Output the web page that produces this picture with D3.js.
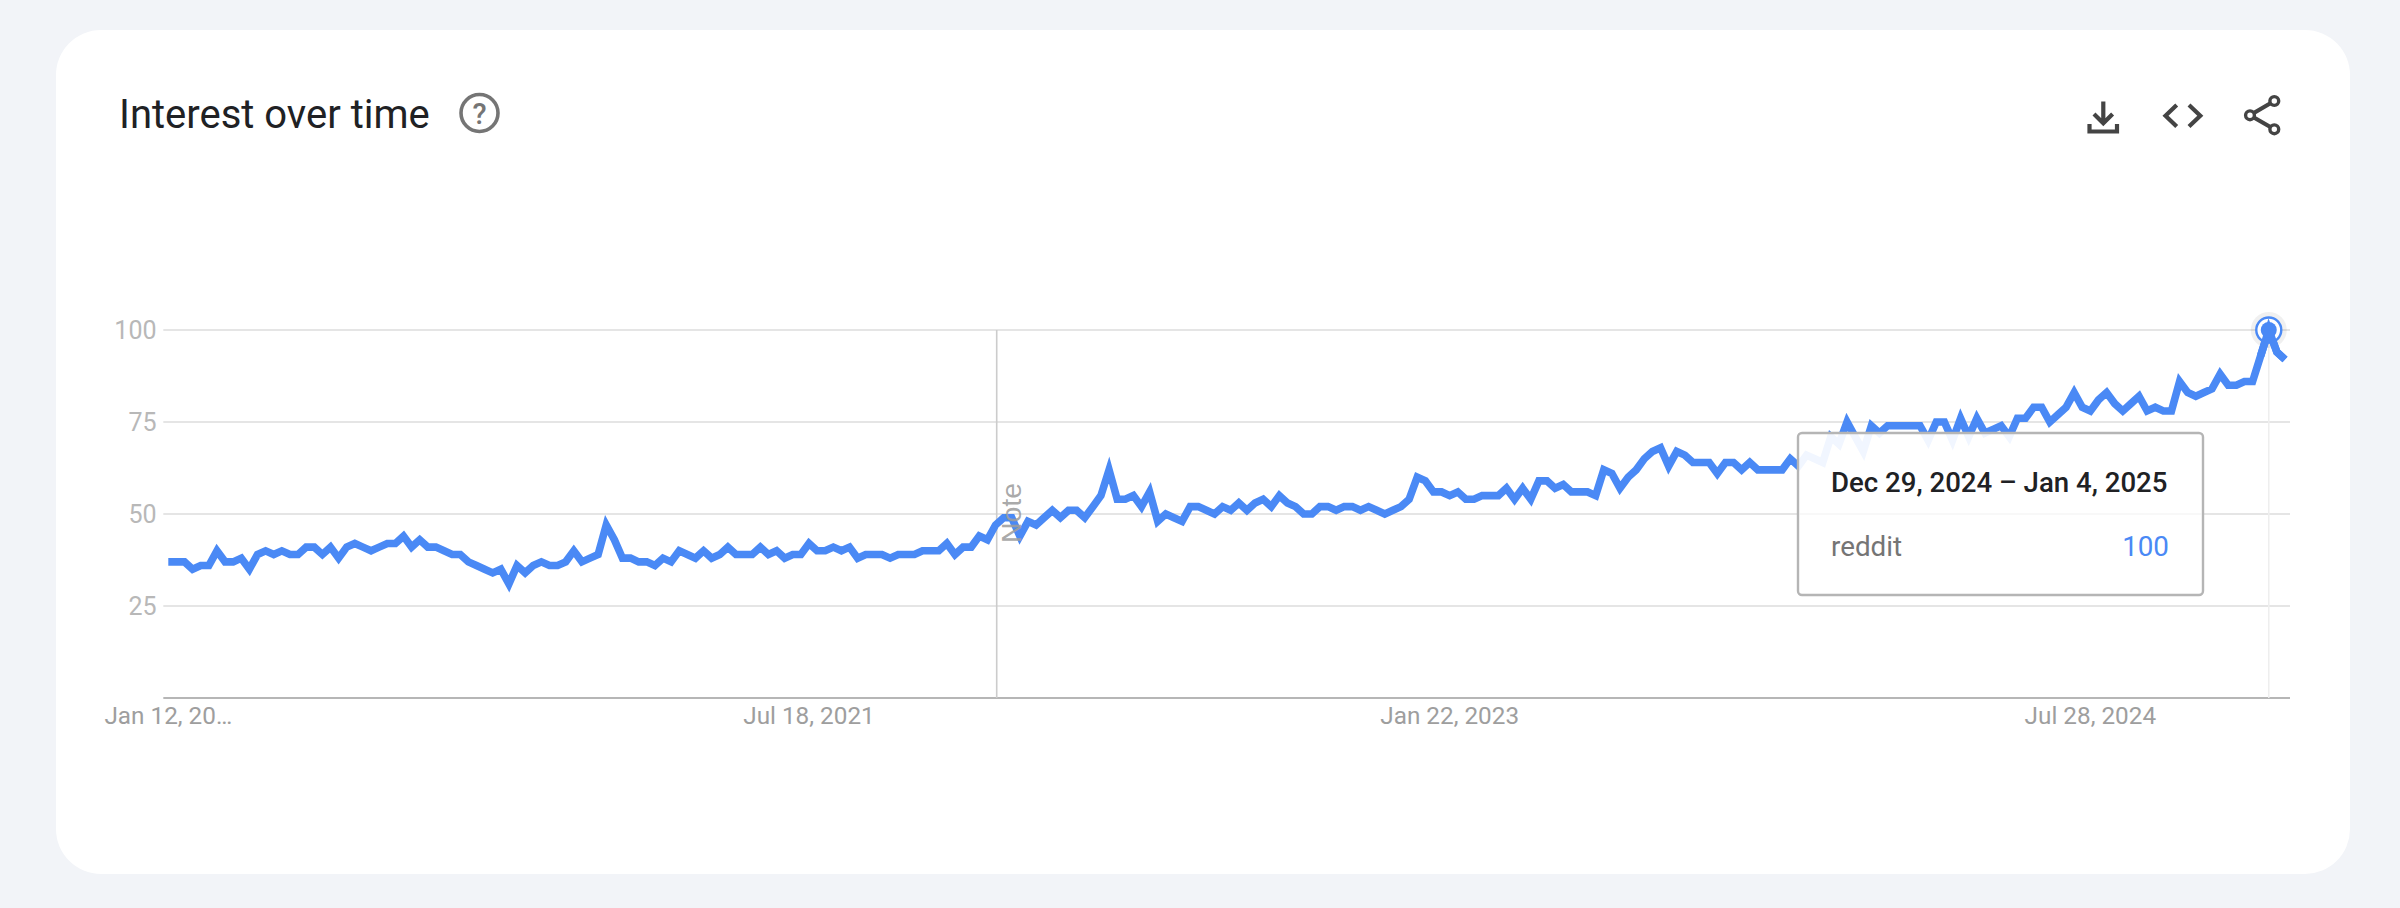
<!DOCTYPE html>
<html><head><meta charset="utf-8">
<script src="https://cdn.jsdelivr.net/npm/d3@7"></script>
<style>html,body{margin:0;padding:0;background:#f2f4f8;}svg{display:block;}text{font-family:Roboto,sans-serif;}</style>
</head><body><svg id="c" width="2400" height="908"></svg>
<script>
const firstWeek = "2020-01-12";
const interest = [
37,37,37,35,36,36,40,37,37,38,35,39,40,39,40,39,39,41,41,39,41,38,41,42,41,40,41,42,42,44,
41,43,41,41,40,39,39,37,36,35,34,35,31,36,34,36,37,36,36,37,40,37,38,39,47,43,38,38,37,37,
36,38,37,40,39,38,40,38,39,41,39,39,39,41,39,40,38,39,39,42,40,40,41,40,41,38,39,39,39,38,
39,39,39,40,40,40,42,39,41,41,44,43,47,49,49,44,48,47,49,51,49,51,51,49,52,55,62,54,54,55,
52,56,48,50,49,48,52,52,51,50,52,51,53,51,53,54,52,55,53,52,50,50,52,52,51,52,52,51,52,51,
50,51,52,54,60,59,56,56,55,56,54,54,55,55,55,57,54,57,54,59,59,57,58,56,56,56,55,62,61,57,
60,62,65,67,68,63,67,66,64,64,64,61,64,64,62,64,62,62,62,62,65,63,66,65,64,71,69,75,71,67,
74,72,74,74,74,74,74,70,75,75,70,76,71,76,72,73,74,71,76,76,79,79,75,77,79,83,79,78,81,83,
80,78,80,82,78,79,78,78,86,83,82,83,84,88,85,85,86,86,93,100,94,92];
const yTicks = [25,50,75,100];
const xTickLabels = ["Jan 12, 20…","Jul 18, 2021","Jan 22, 2023","Jul 28, 2024"];
const xTickDates = ["2020-01-12","2021-07-18","2023-01-22","2024-07-28"];
const hoverDate = "2024-12-29";
const titleText = "Interest over time";
const tooltipTitle = "Dec 29, 2024 – Jan 4, 2025";
const seriesName = "reddit";

const parse = d3.utcParse("%Y-%m-%d");
const weeks = interest.map((v,i)=>d3.utcWeek.offset(parse(firstWeek),i));
const x = d3.scaleUtc().domain([weeks[0],weeks[weeks.length-1]]).range([168.3,2285]);
const y = d3.scaleLinear().domain([0,100]).range([698,330]);
const svg = d3.select("#c");

svg.append("rect").attr("x",56).attr("y",30).attr("width",2294).attr("height",844).attr("rx",45).attr("fill","#fff");

// header
svg.append("text").attr("x",119).attr("y",128).attr("font-size",40).attr("fill","#202124").text(titleText);
const q = svg.append("g").attr("transform","translate(479.5,113)");
q.append("circle").attr("r",18.5).attr("fill","none").attr("stroke","#757575").attr("stroke-width",3.6);
q.append("text").attr("text-anchor","middle").attr("y",10.5).attr("font-size",29).attr("font-weight",500).attr("fill","#757575").text("?");

const ic = svg.append("g").attr("fill","none").attr("stroke","#444").attr("stroke-width",4.2);
ic.append("path").attr("d","M2103.3 101.5V122M2094 114L2103.3 123.3L2112.6 114");
ic.append("path").attr("d","M2089.5 124V131.5H2117V124");
ic.append("path").attr("d","M2176.7 105L2165.5 115.7L2176.7 126.5M2189 105L2200.3 115.7L2189 126.5");
ic.append("path").attr("d","M2274.3 101L2250 115.3L2274.3 129.3");
ic.selectAll("circle").data([[2274.3,101],[2250,115.3],[2274.3,129.3]]).join("circle")
  .attr("cx",d=>d[0]).attr("cy",d=>d[1]).attr("r",4.4).attr("fill","#fff").attr("stroke-width",3.4);

// grid + axis
const gridG = svg.append("g");
gridG.selectAll("line").data(yTicks).join("line")
  .attr("x1",163.3).attr("x2",2290).attr("y1",d=>y(d)).attr("y2",d=>y(d))
  .attr("stroke","#dcdcdc").attr("stroke-width",1.6);
gridG.append("line").attr("x1",163.3).attr("x2",2290).attr("y1",y(0)).attr("y2",y(0)).attr("stroke","#9e9e9e").attr("stroke-width",1.6);
svg.append("g").selectAll("text").data(yTicks).join("text")
  .attr("x",156.5).attr("y",d=>y(d)+8.5).attr("text-anchor","end").attr("font-size",25).attr("fill","#b8b8b8").text(d=>d);
svg.append("g").selectAll("text").data(xTickLabels).join("text")
  .attr("x",(d,i)=>x(parse(xTickDates[i]))).attr("y",724).attr("text-anchor","middle").attr("font-size",24.3).attr("fill","#9e9e9e").text(d=>d);

// note line
const noteX = 996.7;
svg.append("line").attr("x1",noteX).attr("x2",noteX).attr("y1",y(100)).attr("y2",y(0)).attr("stroke","#ccc").attr("stroke-width",1.6);

// hover guide
const hx = x(parse(hoverDate));
svg.append("line").attr("x1",hx).attr("x2",hx).attr("y1",y(100)).attr("y2",y(0)).attr("stroke","#eeeeee").attr("stroke-width",1.5);

// series
const line = d3.line().x((d,i)=>x(weeks[i])).y(d=>y(d)).curve(d3.curveLinear);
svg.append("path").datum(interest).attr("d",line).attr("fill","none").attr("stroke","#4a89f5").attr("stroke-width",7.6).attr("stroke-linejoin","miter").attr("stroke-miterlimit",10);

svg.append("text").attr("transform",`translate(${noteX+24.5},513) rotate(-90)`).attr("text-anchor","middle").style("font-family","'Liberation Sans'").attr("font-size",28.5).attr("fill","#9e9e9e").attr("fill-opacity",.9).text("Note");

// hover marker
const hy = y(interest[weeks.findIndex(w=>+w===+parse(hoverDate))]);
svg.append("circle").attr("cx",hx).attr("cy",hy).attr("r",18).attr("fill","#000").attr("fill-opacity",.06);
svg.append("circle").attr("cx",hx).attr("cy",hy).attr("r",12.5).attr("fill","#fff").attr("stroke","#4a89f5").attr("stroke-width",2.4);
svg.append("path").datum(interest.slice(-4)).attr("d",d3.line().x((d,i)=>x(weeks[weeks.length-4+i])).y(d=>y(d))).attr("fill","none").attr("stroke","#4a89f5").attr("stroke-width",7.6);
svg.append("circle").attr("cx",hx).attr("cy",hy).attr("r",8).attr("fill","#4a89f5");

// tooltip
const tt = svg.append("g");
tt.append("rect").attr("x",1798).attr("y",433).attr("width",405).attr("height",162).attr("rx",4)
  .attr("fill","#fff").attr("fill-opacity",.92).attr("stroke","#b5b5b5").attr("stroke-width",2.4);
tt.append("line").attr("x1",1800).attr("x2",2201).attr("y1",514).attr("y2",514).attr("stroke","#f3f3f3").attr("stroke-width",1);
tt.append("text").attr("x",1831).attr("y",492).attr("font-size",27.6).attr("font-weight",500).attr("fill","#202124").text(tooltipTitle);
tt.append("text").attr("x",1831).attr("y",556).attr("font-size",27.8).attr("fill","#757575").text(seriesName);
tt.append("text").attr("x",2169).attr("y",556).attr("text-anchor","end").attr("font-size",27.8).attr("fill","#4a89f5").text(interest[weeks.findIndex(w=>+w===+parse(hoverDate))]);
</script></body></html>
